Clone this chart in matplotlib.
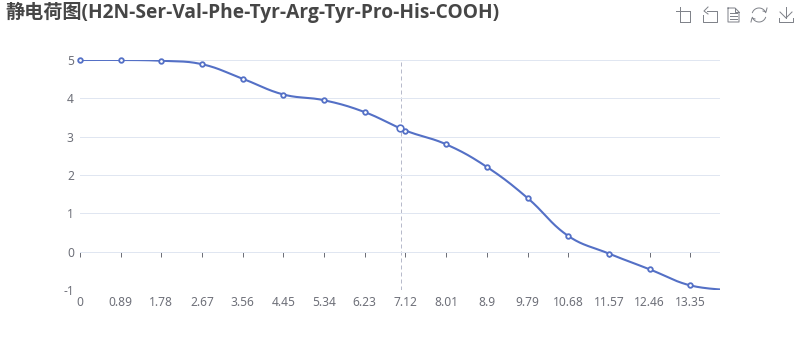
import numpy as np
import matplotlib
matplotlib.use("Agg")
import matplotlib.pyplot as plt
from matplotlib.lines import Line2D

LATIN = ['Noto Sans', 'Noto Sans CJK SC', 'DejaVu Sans']
TITLE_FONT = ['Open Sans', 'Noto Sans CJK SC', 'DejaVu Sans']
plt.rcParams['font.family'] = LATIN

title = "静电荷图(H2N-Ser-Val-Phe-Tyr-Arg-Tyr-Pro-His-COOH)"
ph = [0, 0.89, 1.78, 2.67, 3.56, 4.45, 5.34, 6.23, 7.12, 8.01, 8.9, 9.79, 10.68, 11.57, 12.46, 13.35, 14.24]
charge = [5.0, 5.0, 4.98, 4.89, 4.51, 4.10, 3.95, 3.64, 3.16, 2.80, 2.21, 1.40, 0.41, -0.05, -0.46, -0.88, -1.0]
hover_ph = 6.99
hover_charge = 3.22
pointer_ph = 7.02
ph_ticks = [0, 0.89, 1.78, 2.67, 3.56, 4.45, 5.34, 6.23, 7.12, 8.01, 8.9, 9.79, 10.68, 11.57, 12.46, 13.35]
charge_ticks = [-1, 0, 1, 2, 3, 4, 5]
xmax = 14

W, H = 800, 360
BLUE = '#5470C6'
TXT = '#6E7079'
GRID = '#E0E6F1'

fig = plt.figure(figsize=(W / 100, H / 100), dpi=100)
ax = fig.add_axes([80 / W, 1 - 290 / H, 640 / W, 230 / H])
ax.set_xlim(0, xmax)
ax.set_ylim(-1, 5)
for s in ax.spines.values():
    s.set_visible(False)
ax.set_yticks(charge_ticks)
ax.set_yticklabels([str(v) for v in charge_ticks])
ax.set_xticks(ph_ticks)
ax.set_xticklabels([f"{v:g}" for v in ph_ticks])
ax.grid(axis='y', color=GRID, lw=0.72, zorder=0)
ax.tick_params(axis='y', length=0, labelcolor=TXT, labelsize=8.64, pad=4.5)
ax.tick_params(axis='x', length=0, labelcolor=TXT, labelsize=8.64, pad=4.5)

sx = 640 / xmax
sy = 230 / 6

# category axis line through y = 0, ticks below it
ax.axhline(0, color=TXT, lw=0.72, zorder=1)
ax.vlines(ph_ticks, -5 / sy, 0, color=TXT, lw=0.72, zorder=1)

ax.axvline(pointer_ph, color='#B7BACB', lw=0.72, ls=(0, (4, 3)), zorder=1)

# smoothed line, sampled from cubic Bezier segments
P = np.column_stack([np.array(ph) * sx, np.array(charge) * sy])
n = len(P)
smooth = 0.4
def ctrl(i):
    prev = P[max(i - 1, 0)]
    nxt = P[min(i + 1, n - 1)]
    v = nxt - prev
    d0 = np.linalg.norm(P[i] - prev)
    d1 = np.linalg.norm(nxt - P[i])
    r = d1 / (d0 + d1)
    return P[i] - v * smooth * (1 - r), P[i] + v * smooth * r
t = np.linspace(0, 1, 40)[:, None]
curve = []
for i in range(n - 1):
    c1 = ctrl(i)[1] if i > 0 else P[0]
    c2 = ctrl(i + 1)[0] if i + 1 < n - 1 else P[n - 1]
    curve.append((1 - t) ** 3 * P[i] + 3 * (1 - t) ** 2 * t * c1 + 3 * (1 - t) * t ** 2 * c2 + t ** 3 * P[i + 1])
curve = np.vstack(curve)
ax.plot(curve[:, 0] / sx, curve[:, 1] / sy, color=BLUE, lw=1.5, zorder=3, solid_joinstyle='round')

vis = [i for i, v in enumerate(ph) if v <= xmax]
ax.plot([ph[i] for i in vis], [charge[i] for i in vis], ls='none', marker='o', ms=3.3,
        mfc='white', mec=BLUE, mew=1.3, clip_on=False, zorder=4)
ax.plot([hover_ph], [hover_charge], ls='none', marker='o', ms=4.8, mfc='white', mec=BLUE,
        mew=1.2, clip_on=False, zorder=5)

fig.text(5 / W, 1 - 12.5 / H, title, fontsize=13.8, fontweight='bold', color='#464646',
         ha='left', va='center', family=TITLE_FONT)

# toolbox icons
ICON = '#80838A'
def seg(xs, ys):
    fig.add_artist(Line2D(np.array(xs) / W, 1 - np.array(ys) / H, color=ICON, lw=0.72,
                          transform=fig.transFigure))
# crop
seg([676, 690], [11, 11]); seg([680, 680], [7, 22]); seg([680, 690], [22, 22]); seg([690, 690], [11, 22])
# back
seg([707, 717, 717, 703, 703], [11, 11, 22, 22, 15]); seg([708, 704, 708], [7, 11, 14])
# data view
seg([728, 735, 739, 739, 728, 728], [8, 8, 12, 22, 22, 8]); seg([735, 735, 739], [8, 12, 12])
for y in (13, 16, 19):
    seg([730, 737], [y, y])
# refresh
cx, cy = 759, 15
ang = np.radians(np.linspace(20, 160, 30))
seg(cx + 7 * np.cos(ang), cy - 7 * np.sin(ang))
ang = np.radians(np.linspace(200, 340, 30))
seg(cx + 7 * np.cos(ang), cy - 7 * np.sin(ang))
seg([763, 766, 767], [11, 12, 8]); seg([751, 752, 755], [22, 18, 19])
# save
seg([786, 786], [7, 18]); seg([780, 786, 792], [12, 18, 12]); seg([779, 779, 793, 793], [18, 22, 22, 18])

fig.savefig('out.png', dpi=100)
